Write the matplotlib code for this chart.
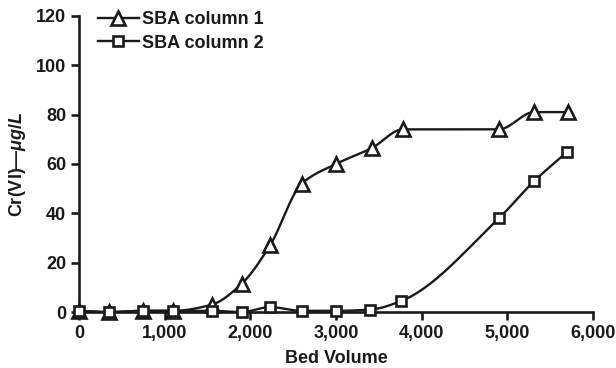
import numpy as np
import matplotlib.pyplot as plt
from matplotlib.ticker import FuncFormatter

plt.rcParams['font.family'] = ['Liberation Sans', 'DejaVu Sans']
plt.rcParams['font.weight'] = 'bold'
plt.rcParams['mathtext.fontset'] = 'custom'
plt.rcParams['mathtext.it'] = 'Liberation Sans:italic:bold'
plt.rcParams['mathtext.rm'] = 'Liberation Sans:bold'

# data
bv1 = [0, 350, 750, 1100, 1550, 1900, 2230, 2600, 3000, 3420, 3780, 4900, 5310, 5705]
cr1 = [0.5, 0, 0.5, 0.5, 3, 11.5, 27, 52, 60, 66.5, 74, 74, 81, 81]
bv2 = [0, 350, 750, 1100, 1550, 1900, 2230, 2600, 3000, 3400, 3760, 4900, 5310, 5700]
cr2 = [0.5, 0, 0.5, 0.5, 0.5, 0, 2, 0.5, 0.5, 1, 4.5, 38, 53, 65]
labels = ['SBA column 1', 'SBA column 2']

INK = '#1a1a1a'
FS = 13


def smooth(x, y, n=30):
    # monotone cubic (pchip-like) curve through the points, for the drawn line only
    x = np.asarray(x, float)
    y = np.asarray(y, float)
    h = np.diff(x)
    d = np.diff(y) / h
    m = np.zeros_like(y)
    for i in range(1, len(x) - 1):
        if d[i - 1] * d[i] > 0:
            w1 = 2 * h[i] + h[i - 1]
            w2 = h[i] + 2 * h[i - 1]
            m[i] = (w1 + w2) / (w1 / d[i - 1] + w2 / d[i])
    m[0] = d[0]
    m[-1] = d[-1]
    xs, ys = [], []
    for i in range(len(x) - 1):
        t = np.linspace(0, 1, n, endpoint=False)
        h00 = 2 * t**3 - 3 * t**2 + 1
        h10 = t**3 - 2 * t**2 + t
        h01 = -2 * t**3 + 3 * t**2
        h11 = t**3 - t**2
        xs.append(x[i] + t * h[i])
        ys.append(h00 * y[i] + h10 * h[i] * m[i] + h01 * y[i + 1] + h11 * h[i] * m[i + 1])
    xs.append([x[-1]])
    ys.append([y[-1]])
    return np.concatenate(xs), np.concatenate(ys)


fig = plt.figure(figsize=(6.16, 3.68), dpi=100)
ax = fig.add_axes([0.128, 0.152, 0.835, 0.805])

for bv, cr, mk, ms, lab in [(bv1, cr1, '^', 9.5, labels[0]), (bv2, cr2, 's', 7.5, labels[1])]:
    sx, sy = smooth(bv, cr)
    ax.plot(sx, sy, color=INK, lw=1.7, zorder=2, clip_on=False)
    ax.plot(bv, cr, linestyle='none', marker=mk, ms=ms, mfc='white', mec=INK,
            mew=1.9, zorder=3, clip_on=False)
    ax.plot([], [], color=INK, lw=1.7, marker=mk, ms=ms, mfc='white',
            mec=INK, mew=1.9, label=lab)

ax.set_xlim(0, 6000)
ax.set_ylim(0, 120)
ax.set_xticks(range(0, 6001, 1000))
ax.set_yticks(range(0, 121, 20))
ax.xaxis.set_major_formatter(FuncFormatter(lambda v, p: f'{int(v):,}'))
for s in ['top', 'right']:
    ax.spines[s].set_visible(False)
for s in ['left', 'bottom']:
    ax.spines[s].set_linewidth(1.9)
    ax.spines[s].set_color(INK)
ax.tick_params(direction='out', length=6, width=1.9, color=INK, pad=3,
               labelsize=FS, labelcolor=INK)
ax.set_xlabel('Bed Volume', fontsize=FS, fontweight='bold', color=INK, labelpad=6)
ax.set_ylabel('Cr(VI)—$\\mathit{μg/L}$', fontsize=FS, fontweight='bold', color=INK,
              labelpad=6)

leg = ax.legend(loc='upper left', bbox_to_anchor=(0.005, 1.07), frameon=False,
                handlelength=2.3, handletextpad=0.15, labelspacing=0.35,
                prop={'size': FS, 'weight': 'bold'})
for t in leg.get_texts():
    t.set_color(INK)

fig.savefig('out.png', dpi=100)
